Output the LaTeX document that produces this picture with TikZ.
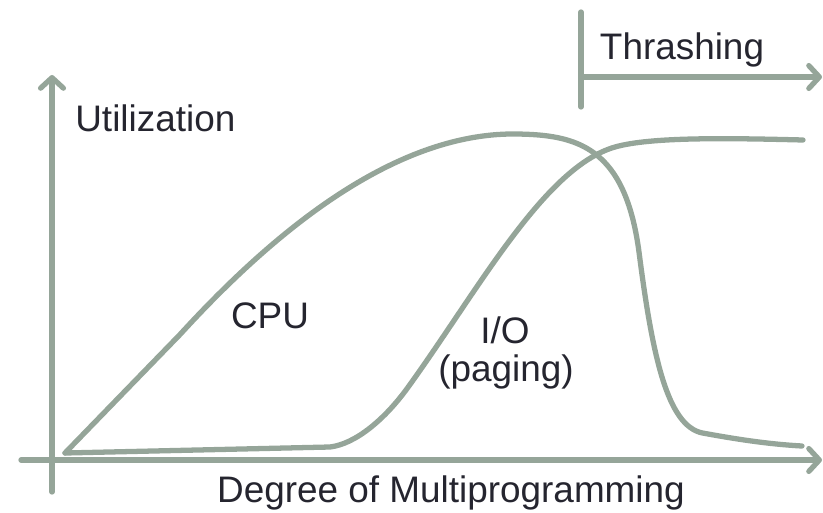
\documentclass[tikz,border=0pt]{standalone}
\usepackage{fontspec}
\setmainfont{Liberation Sans}
\usepackage{tikz}
\usetikzlibrary{arrows.meta, positioning, calc}
\definecolor{curvesage}{HTML}{95A599}
\definecolor{labeldark}{HTML}{25252F}

\tikzset{
  sageline/.style={curvesage, line width=3pt, line cap=round, line join=round},
  sagearrow/.style={sageline, -{Straight Barb[length=6pt, width=13pt, round]}},
  graphlabel/.style={labeldark, font=\fontsize{21}{24}\selectfont, inner sep=0pt}
}

\begin{document}
\begin{tikzpicture}
  \useasboundingbox (0,0) rectangle (16.46,10.24);

  % Axes
  \coordinate (xstart) at (0.42,1.04);
  \coordinate (xend) at (16.44,1.04);
  \coordinate (ystart) at (1.04,0.40);
  \coordinate (yend) at (1.04,8.74);
  \draw[sagearrow] (xstart) -- (xend);
  \draw[sagearrow] (ystart) -- (yend);

  % Thrashing marker
  \coordinate (thtop) at (11.62,10.00);
  \coordinate (thbot) at (11.62,8.10);
  \coordinate (thleft) at (11.62,8.70);
  \coordinate (thright) at (16.44,8.70);
  \draw[sageline] (thtop) -- (thbot);
  \draw[sagearrow] (thleft) -- (thright);

  % CPU utilization curve
  \draw[sageline] (1.30,1.18) -- (3.60,3.55)
    .. controls (5.20,5.30) and (7.70,7.58) .. (10.30,7.56)
    .. controls (11.55,7.55) and (12.50,7.30) .. (12.78,5.20)
    .. controls (13.05,3.10) and (13.35,1.72) .. (14.05,1.58)
    .. controls (14.60,1.48) and (15.30,1.36) .. (16.04,1.32);

  % I/O (paging) curve
  \draw[sageline] (1.30,1.18) -- (6.60,1.30)
    .. controls (7.10,1.36) and (7.70,1.84) .. (8.20,2.55)
    .. controls (9.60,4.50) and (10.90,6.90) .. (12.30,7.30)
    .. controls (13.00,7.50) and (14.50,7.48) .. (16.06,7.44);

  % Labels
  \node[graphlabel, anchor=base] (thrash) at (13.64,9.04) {Thrashing};
  \node[graphlabel, anchor=base west] (util) at (1.50,7.60) {Utilization};
  \node[graphlabel, anchor=base] (cpu) at (5.40,3.68) {CPU};
  \node[graphlabel, anchor=base] (io) at (10.10,3.38) {I/O};
  \node[graphlabel, anchor=base] (paging) at (10.12,2.62) {(paging)};
  \node[graphlabel, anchor=base] (degree) at (9.02,0.20) {Degree of Multiprogramming};
\end{tikzpicture}
\end{document}
